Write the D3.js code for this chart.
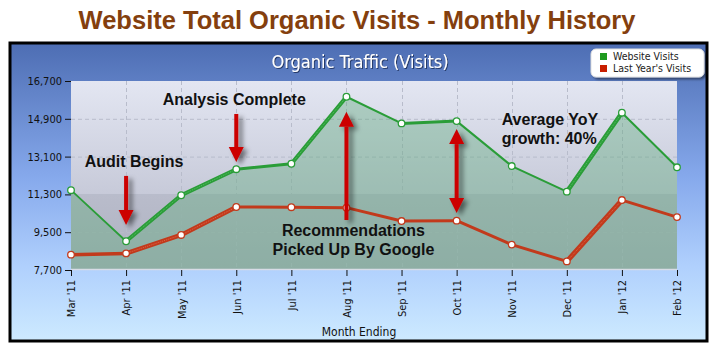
<!DOCTYPE html>
<html><head><meta charset="utf-8">
<script src="https://cdn.jsdelivr.net/npm/d3@7"></script>
<style>
html,body{margin:0;padding:0;background:#fff;}
svg{display:block;}
</style></head>
<body>
<svg id="chart" width="725" height="355"></svg>
<script>
// ---------- data ----------
const months = ["Mar '11","Apr '11","May '11","Jun '11","Jul '11","Aug '11","Sep '11","Oct '11","Nov '11","Dec '11","Jan '12","Feb '12"];
const websiteVisits = [11500, 9070, 11260, 12500, 12760, 15950, 14680, 14790, 12650, 11430, 15190, 12590];
const lastYearVisits = [8430, 8490, 9370, 10700, 10690, 10670, 10030, 10050, 8910, 8110, 11030, 10220];
const yTicks = [7700, 9500, 11300, 13100, 14900, 16700];
const seriesNames = ["Website Visits", "Last Year's Visits"];
const titleText = "Website Total Organic Visits - Monthly History";
const chartTitle = "Organic Traffic (Visits)";
const xAxisTitle = "Month Ending";
// annotations (data space)
const arrowMonths = ["Apr '11", "Jun '11", "Aug '11", "Oct '11"];
const arrowFrom   = [12180, 15130, 10080, 14410];
const arrowTo     = [9840, 12840, 15240, 10410];
const arrowDouble = [false, false, false, true];
const noteLines = [["Audit Begins"], ["Analysis Complete"], ["Recommendations", "Picked Up By Google"], ["Average YoY", "growth: 40%"]];
const noteMonths = ["Apr '11", "Jun '11", "Aug '11", "Oct '11"];
const noteValues = [12600, 15560, 9320, 14600];

// ---------- styles ----------
const greenWidths = [1.8, 4, 4, 3, 4, 2, 3, 2, 2, 4.5, 2];
const redWidths   = [3.5, 4.5, 4.5, 3, 3, 3, 3, 3, 3, 5, 3];
const green = "#2a9d38", red = "#c23a1c";

const svg = d3.select("#chart");
const frame = {x: 10, y: 43, w: 697, h: 298};
const plot = {l: 71, r: 677, t: 81, b: 270};

const defs = svg.append("defs");
const og = defs.append("linearGradient").attr("id","outerG").attr("x1",0).attr("y1",0).attr("x2",0).attr("y2",1);
og.append("stop").attr("offset","0%").attr("stop-color","#4d6db3");
og.append("stop").attr("offset","45%").attr("stop-color","#86a9ec");
og.append("stop").attr("offset","75%").attr("stop-color","#b0d0fd");
og.append("stop").attr("offset","100%").attr("stop-color","#cdeaff");
const pg = defs.append("linearGradient").attr("id","plotG").attr("x1",0).attr("y1",0).attr("x2",0).attr("y2",1);
pg.append("stop").attr("offset","0%").attr("stop-color","#e3e6f2");
pg.append("stop").attr("offset","59.8%").attr("stop-color","#c7cad9");
pg.append("stop").attr("offset","60%").attr("stop-color","#b9bccb");
pg.append("stop").attr("offset","100%").attr("stop-color","#aeb2c1");
const sh = defs.append("filter").attr("id","shadow").attr("x","-50%").attr("y","-20%").attr("width","250%").attr("height","150%");
sh.append("feGaussianBlur").attr("in","SourceAlpha").attr("stdDeviation",2.5);
sh.append("feOffset").attr("dx",4).attr("dy",3).attr("result","ob");
sh.append("feComponentTransfer").append("feFuncA").attr("type","linear").attr("slope",0.5);
const fm = sh.append("feMerge");
fm.append("feMergeNode");
fm.append("feMergeNode").attr("in","SourceGraphic");
const ts = defs.append("filter").attr("id","tshadow");
ts.append("feDropShadow").attr("dx",1).attr("dy",1).attr("stdDeviation",0.6).attr("flood-color","#1a2a55").attr("flood-opacity",0.8);
const ls = defs.append("filter").attr("id","lshadow").attr("x","-10%").attr("y","-20%").attr("width","130%").attr("height","160%");
ls.append("feDropShadow").attr("dx",2).attr("dy",2).attr("stdDeviation",1.2).attr("flood-color","#000").attr("flood-opacity",0.45);

// main title
svg.append("text").attr("x", 357).attr("y", 29).attr("text-anchor","middle")
  .attr("font-family","Liberation Sans, Arial, sans-serif").attr("font-weight","bold")
  .attr("font-size", 25.5).attr("fill","#843f0e").text(titleText);

// frame
svg.append("rect").attr("x",frame.x).attr("y",frame.y).attr("width",frame.w).attr("height",frame.h)
  .attr("fill","url(#outerG)").attr("stroke","#000").attr("stroke-width",3);

// chart title
svg.append("text").attr("x", 360).attr("y", 68).attr("text-anchor","middle")
  .attr("font-family","DejaVu Sans Condensed, DejaVu Sans, sans-serif").attr("font-size",18)
  .attr("fill","#fff").attr("filter","url(#tshadow)").text(chartTitle);

const x = d3.scalePoint().domain(months).range([plot.l, plot.r]);
const y = d3.scaleLinear().domain([yTicks[0], yTicks[yTicks.length-1]]).range([plot.b, plot.t]);

// plot bg
svg.append("rect").attr("x",plot.l).attr("y",plot.t).attr("width",plot.r-plot.l).attr("height",plot.b-plot.t)
  .attr("fill","url(#plotG)");

// grid
const grid = svg.append("g").attr("stroke","#b8bccb").attr("stroke-dasharray","4,3").attr("stroke-width",1);
yTicks.slice(1,-1).forEach(t => grid.append("line").attr("x1",plot.l).attr("x2",plot.r).attr("y1",y(t)+0.5).attr("y2",y(t)+0.5));
months.slice(1,-1).forEach(m => grid.append("line").attr("x1",Math.round(x(m))+0.5).attr("x2",Math.round(x(m))+0.5).attr("y1",plot.t).attr("y2",plot.b));

// area
const area = d3.area().x((d,i)=>x(months[i])).y0(plot.b).y1(d=>y(d));
svg.append("path").datum(websiteVisits).attr("d",area).attr("fill","#5aa877").attr("fill-opacity",0.38);
svg.append("line").attr("x1",plot.l).attr("x2",plot.r).attr("y1",plot.b-0.5).attr("y2",plot.b-0.5).attr("stroke","#d8dce6").attr("stroke-width",1.5);

// axes
const fmt = d3.format(",");
const yAxis = svg.append("g").attr("transform",`translate(${plot.l},0)`)
  .call(d3.axisLeft(y).tickValues(yTicks).tickFormat(fmt).tickSize(6).tickPadding(3));
yAxis.select(".domain").remove();
yAxis.selectAll("line").attr("stroke","#111");
yAxis.selectAll("text").attr("font-family","DejaVu Sans Condensed, DejaVu Sans, sans-serif").attr("font-size",11).attr("fill","#111");

const xAxis = svg.append("g").attr("transform",`translate(0,${plot.b})`)
  .call(d3.axisBottom(x).tickSize(6).tickPadding(4));
xAxis.select(".domain").remove();
xAxis.selectAll("line").attr("stroke","#111");
xAxis.selectAll("text").attr("font-family","DejaVu Sans Condensed, DejaVu Sans, sans-serif").attr("font-size",11).attr("fill","#111")
  .attr("text-anchor","end").attr("transform","rotate(-90)").attr("x",-10).attr("y",0).attr("dy","0.35em");

svg.append("text").attr("x",359).attr("y",336).attr("text-anchor","middle")
  .attr("font-family","DejaVu Sans Condensed, DejaVu Sans, sans-serif").attr("font-size",12).attr("fill","#111").text(xAxisTitle);

// lines (per segment)
function drawSeries(vals, widths, color, light) {
  const g = svg.append("g");
  for (let i = 0; i < vals.length-1; i++) {
    const x1 = x(months[i]), y1 = y(vals[i]), x2 = x(months[i+1]), y2 = y(vals[i+1]);
    g.append("line").attr("x1",x1).attr("y1",y1).attr("x2",x2).attr("y2",y2)
      .attr("stroke",color).attr("stroke-width",widths[i]).attr("stroke-linecap","round");
    if (widths[i] >= 4) {
      g.append("line").attr("x1",x1).attr("y1",y1).attr("x2",x2).attr("y2",y2)
        .attr("stroke",light).attr("stroke-width",1).attr("stroke-opacity",0.55).attr("stroke-dasharray","1,1");
    }
  }
  g.selectAll("circle").data(vals).join("circle")
    .attr("cx",(d,i)=>x(months[i])).attr("cy",d=>y(d)).attr("r",3.3)
    .attr("fill","#fff").attr("stroke",color).attr("stroke-width",1.3);
}
drawSeries(lastYearVisits, redWidths, red, "#f08a70");
drawSeries(websiteVisits, greenWidths, green, "#7fd88a");

// arrows
const ag = svg.append("g").attr("filter","url(#shadow)");
arrowMonths.forEach((m,i) => {
  const ax = x(m), y0 = y(arrowFrom[i]), y1 = y(arrowTo[i]);
  const dir = y1 > y0 ? 1 : -1;
  const hl = 15, hw = 7.5, sw = 2;
  let shaftStart = y0, shaftEnd = y1 - dir*hl;
  if (arrowDouble[i]) shaftStart = y0 + dir*hl;
  ag.append("rect").attr("x",ax-sw).attr("width",sw*2)
    .attr("y",Math.min(shaftStart,shaftEnd)).attr("height",Math.abs(shaftEnd-shaftStart)).attr("fill","#cc0000");
  ag.append("path").attr("d",`M${ax-hw},${y1-dir*hl} L${ax+hw},${y1-dir*hl} L${ax},${y1} Z`).attr("fill","#cc0000");
  if (arrowDouble[i]) {
    ag.append("path").attr("d",`M${ax-hw},${y0+dir*hl} L${ax+hw},${y0+dir*hl} L${ax},${y0} Z`).attr("fill","#cc0000");
  }
});

// notes
const noteDx = [8, -2, 7, 45];
const noteAnchor = ["middle","middle","middle","start"];
noteLines.forEach((lines,i) => {
  const t = svg.append("text").attr("font-family","Liberation Sans, Arial, sans-serif").attr("font-weight","bold")
    .attr("font-size",16).attr("fill","#111").attr("text-anchor",noteAnchor[i]);
  lines.forEach((ln,j) => t.append("tspan").attr("x", x(noteMonths[i]) + noteDx[i]).attr("y", y(noteValues[i]) + j*19).text(ln));
});

// legend
const lg = svg.append("g").attr("transform","translate(591,49)");
lg.append("rect").attr("width",113).attr("height",28).attr("rx",5).attr("fill","#fff").attr("stroke","#e0e0e0").attr("filter","url(#lshadow)");
seriesNames.forEach((n,i) => {
  lg.append("rect").attr("x",9).attr("y",4+i*12).attr("width",7).attr("height",7).attr("fill",i===0?"#1f9a1f":"#c81e00");
  lg.append("text").attr("x",22).attr("y",11+i*12).attr("font-family","DejaVu Sans Condensed, DejaVu Sans, sans-serif")
    .attr("font-size",10.5).attr("fill","#222").text(n);
});
</script>
</body></html>
